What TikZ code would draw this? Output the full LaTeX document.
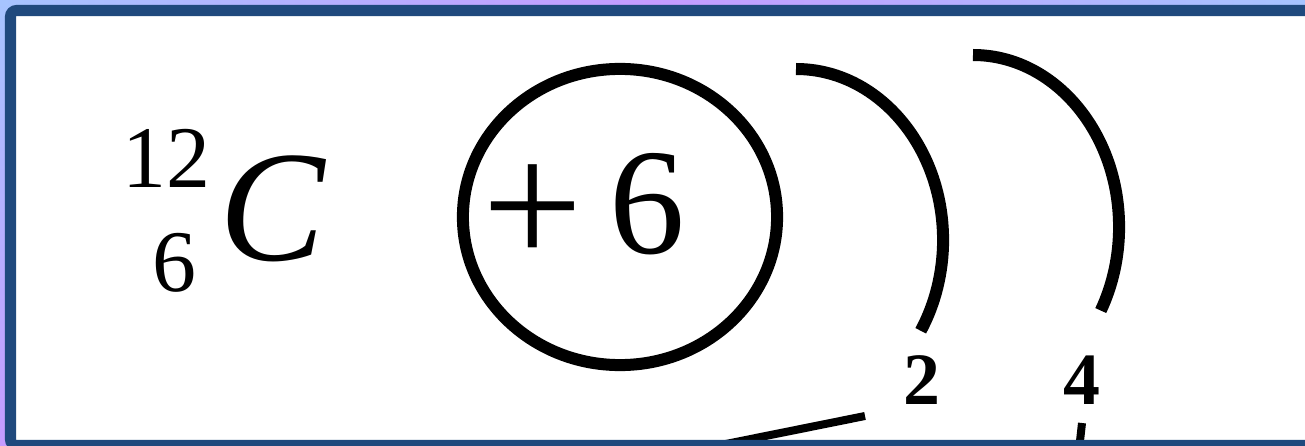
\documentclass[tikz,border=0pt]{standalone}
\usepackage{fontspec}
\setmainfont{Liberation Serif}
\usepackage{graphicx}
\usepackage{tikz}
\usetikzlibrary{shapes.geometric}

\definecolor{framblue}{HTML}{1F497D}
\definecolor{bgblue}{HTML}{A6C4FF}
\definecolor{bgpurple}{HTML}{C59BFF}

\begin{document}
\begin{tikzpicture}[x=0.01cm, y=0.01cm,
  shell/.style={draw, line width=0.12cm},
  stub/.style={draw, line width=0.08cm},
  big/.style={inner sep=0pt, font=\fontsize{45}{50}\selectfont},
  small/.style={inner sep=0pt, font=\fontsize{25}{28}\selectfont},
  count/.style={inner sep=0pt, font=\fontsize{21}{24}\selectfont\bfseries},
  frame/.style={draw=framblue, line width=0.11cm, rounded corners=0.06cm}
]
  \useasboundingbox (0,0) rectangle (1305,445);
  % background behind the frame
  \shade[left color=bgblue, right color=bgblue, middle color=bgpurple] (0,0) rectangle (1305,445);
  \shade[top color=bgblue, bottom color=bgpurple] (0,0) rectangle (8,445);
  \fill[white] (16,5) rectangle (1310,429);

  % isotope symbol
  \node[big, anchor=base west] (sym) at (219,185) {\itshape C};
  \node[small, anchor=base east] (mass) at (211,258) {12};
  \node[small, anchor=base] (charge) at (174,153) {6};

  % nucleus
  \node[shell, ellipse, minimum width=3.14cm, minimum height=2.96cm] (nucleus) at (620,228) {};
  \node[inner sep=0pt, anchor=base west, font=\fontsize{43}{48}\selectfont] (core) at (482,192)
    {\raisebox{-3.5pt}{\scalebox{1.18}{+}}\hspace{0.17em}6};

  % electron shells
  \draw[shell] (796,376) arc[start angle=90, end angle=-32, x radius=1.47cm, y radius=1.71cm];
  \draw[shell] (973,390) arc[start angle=90, end angle=-29, x radius=1.46cm, y radius=1.72cm];
  \node[count, anchor=base] (n1) at (922,41) {2};
  \node[count, anchor=base] (n2) at (1082,41) {4};

  % leader lines running out at the bottom
  \coordinate (a1) at (865,29);
  \coordinate (a2) at (696,-5);
  \coordinate (b1) at (1082,22);
  \coordinate (b2) at (1079,-5);
  \draw[stub] (a1) -- (a2);
  \draw[stub] (b1) -- (b2);

  % frame
  \draw[frame] (10.5,-0.5) rectangle (1330,434.5);
\end{tikzpicture}
\end{document}
